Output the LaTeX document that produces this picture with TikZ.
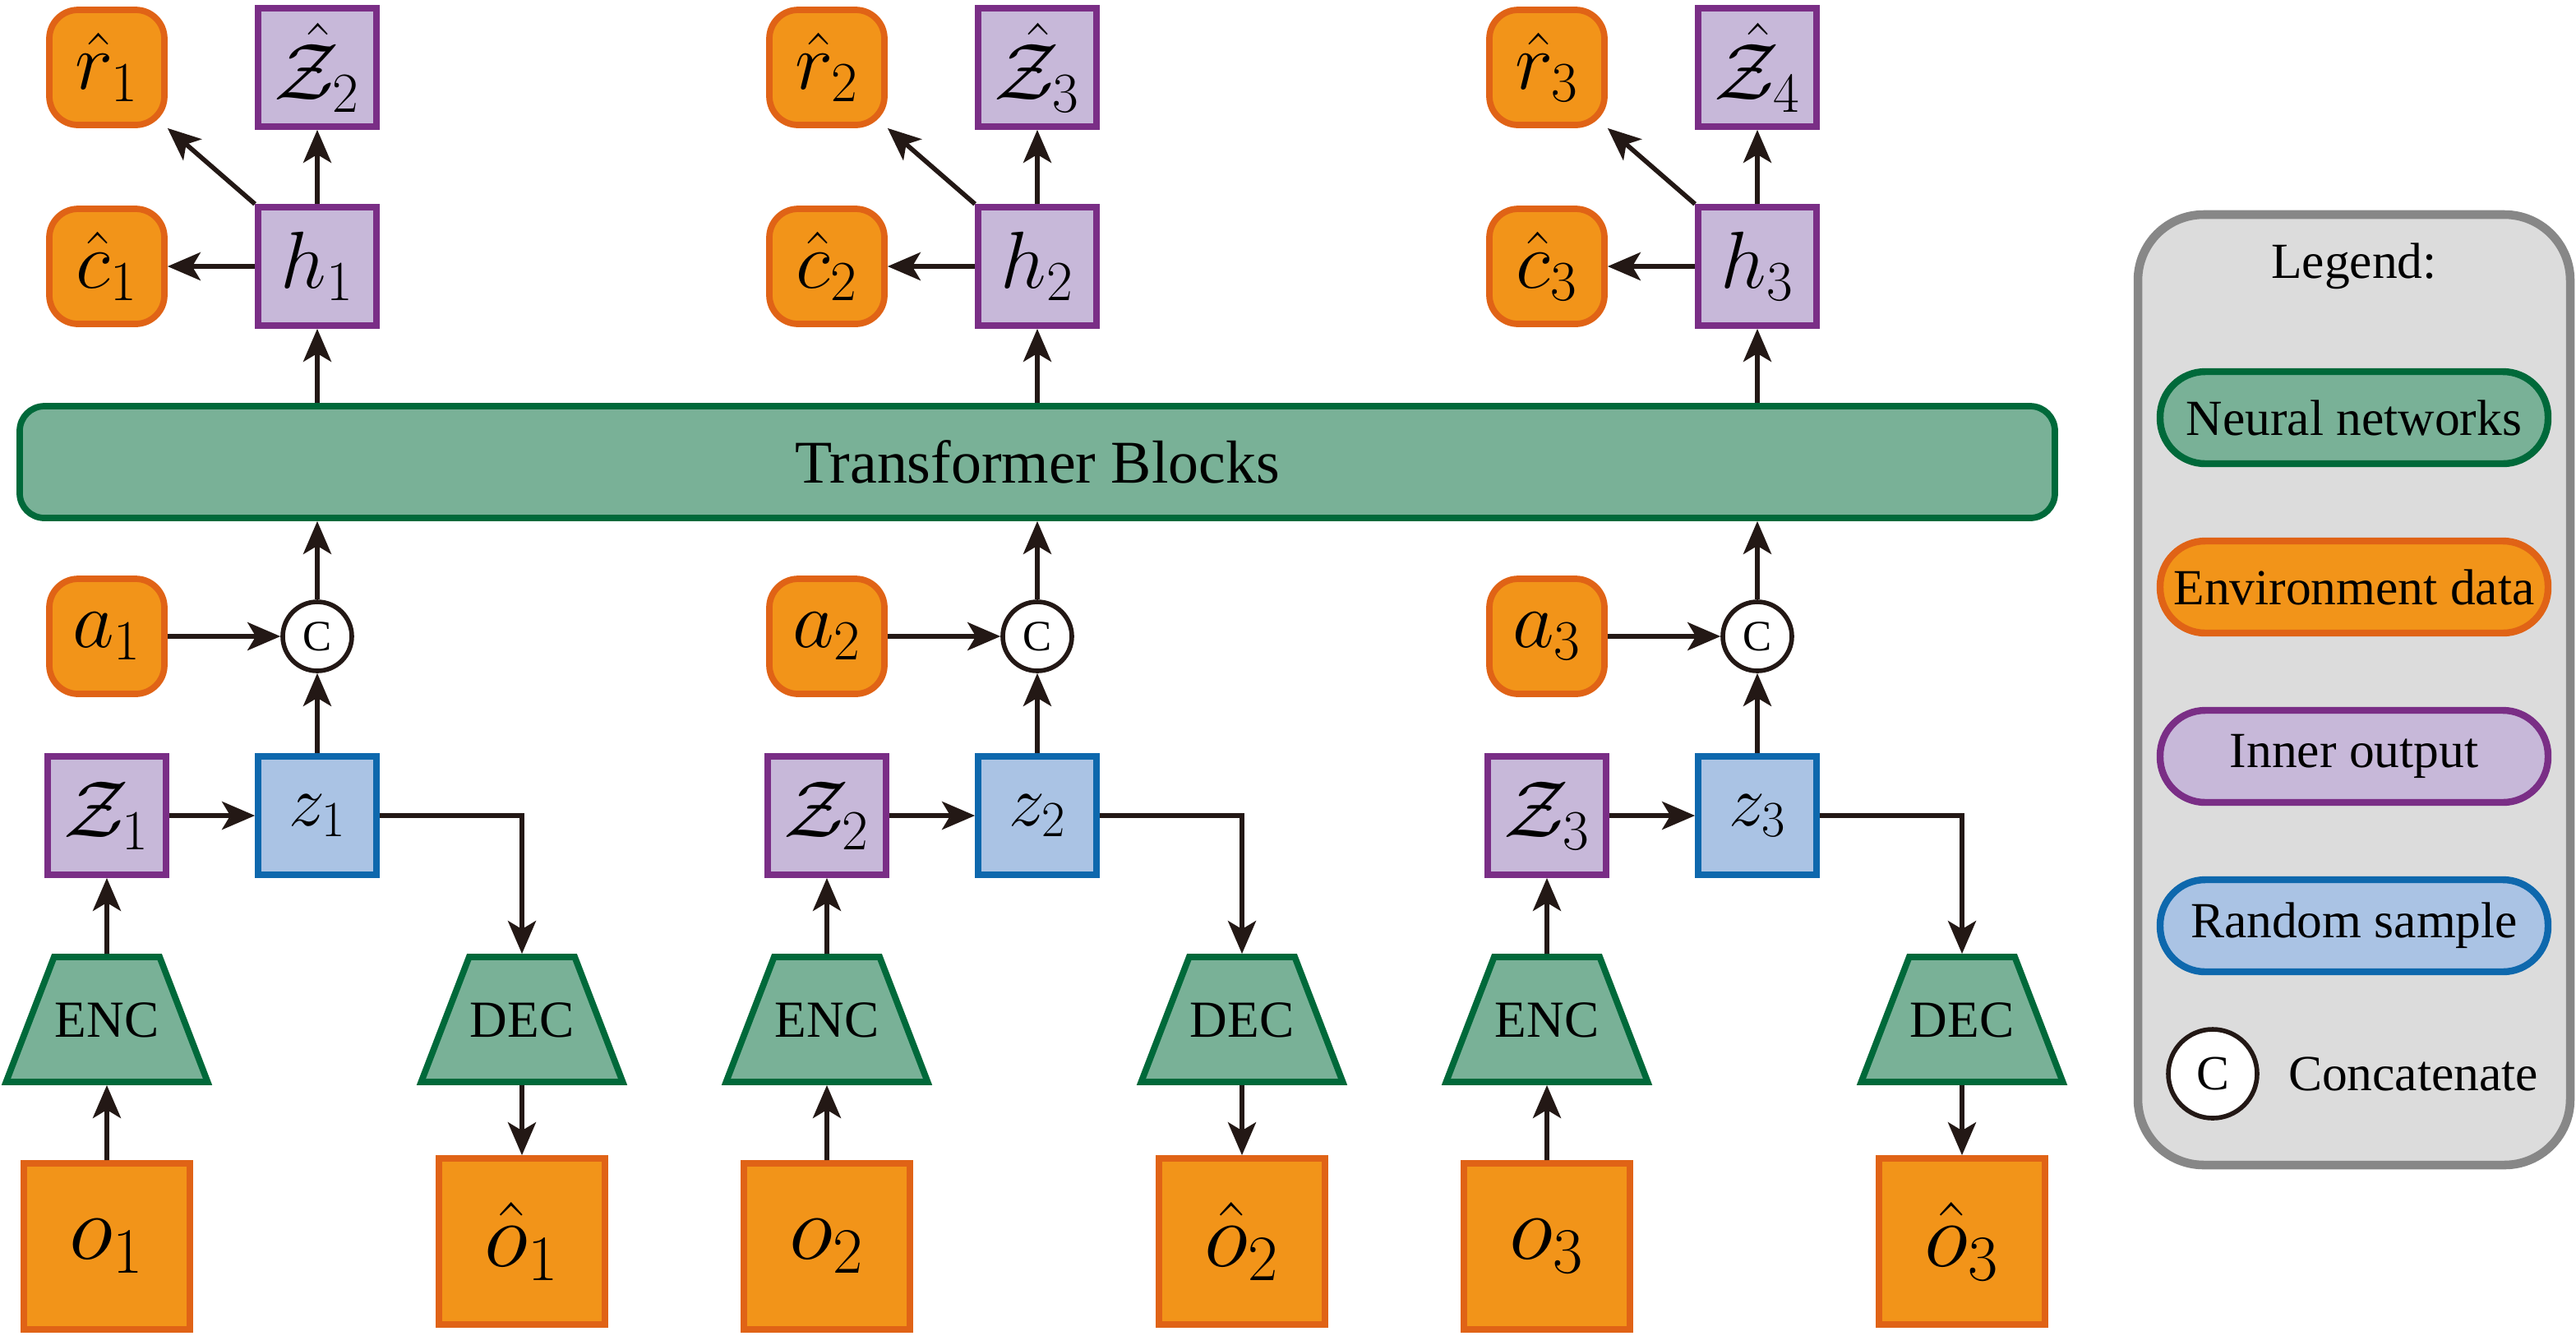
\RequirePackage{fix-cm}
\documentclass[tikz,border=0pt]{standalone}
\usepackage[no-math]{fontspec}
\setmainfont{Liberation Serif}
\usetikzlibrary{arrows.meta,shapes.geometric}

\definecolor{envfill}{HTML}{F29419}
\definecolor{envline}{HTML}{E06316}
\definecolor{innerfill}{HTML}{C7B8D9}
\definecolor{innerline}{HTML}{7A2E86}
\definecolor{samplefill}{HTML}{AAC3E4}
\definecolor{sampleline}{HTML}{0E68AD}
\definecolor{netfill}{HTML}{79B197}
\definecolor{netline}{HTML}{00693A}
\definecolor{legfill}{HTML}{DCDCDC}
\definecolor{legline}{HTML}{878787}
\definecolor{arrowcol}{HTML}{231815}

\tikzset{
  envbox/.style={draw=envline, fill=envfill, line width=2.2pt, rounded corners=0.35cm,
    minimum size=1.40cm, inner sep=0pt, font=\fontsize{28}{32}\selectfont},
  innerbox/.style={draw=innerline, fill=innerfill, line width=2.2pt,
    minimum size=1.44cm, inner sep=0pt, font=\fontsize{28}{32}\selectfont},
  samplebox/.style={draw=sampleline, fill=samplefill, line width=2.2pt,
    minimum size=1.44cm, inner sep=0pt, font=\fontsize{25}{28}\selectfont},
  obsbox/.style={draw=envline, fill=envfill, line width=2.2pt,
    minimum size=2.02cm, inner sep=0pt, font=\fontsize{32}{36}\selectfont},
  netbox/.style={trapezium, trapezium angle=69, trapezium stretches=false,
    draw=netline, fill=netfill, line width=2.2pt, inner xsep=0.01cm, inner ysep=0.55cm,
    text height=0.42cm, text depth=0cm, font=\fontsize{18}{20}\selectfont},
  catnode/.style={circle, draw=arrowcol, fill=white, line width=1.6pt,
    minimum size=0.84cm, inner sep=0pt, font=\fontsize{15}{17}\selectfont},
  legpill/.style={line width=2.4pt, rounded corners=0.55cm, minimum width=4.72cm,
    minimum height=1.12cm, font=\fontsize{17.5}{20}\selectfont},
  flow/.style={draw=arrowcol, line width=1.6pt,
    -{Stealth[length=0.4cm,width=0.34cm,inset=0.1cm]}},
}

\begin{document}
\begin{tikzpicture}
  \useasboundingbox (0,0) rectangle (31.34,-16.24);

  % transformer
  \node[draw=netline, fill=netfill, line width=2.2pt, rounded corners=0.3cm,
    minimum width=24.76cm, minimum height=1.36cm, font=\fontsize{21}{24}\selectfont]
    (tf) at (12.62,-5.62) {Transformer Blocks};

  \foreach \i [evaluate=\i as \x using (\i-1)*8.76, evaluate=\i as \j using int(\i+1)] in {1,2,3} {
    % outputs
    \node[envbox] (r\i) at (1.30+\x,-0.82) {$\hat{r}_{\i}$};
    \node[innerbox] (zh\i) at (3.86+\x,-0.82) {$\hat{\mathcal{Z}}_{\j}$};
    \node[envbox] (c\i) at (1.30+\x,-3.24) {$\hat{c}_{\i}$};
    \node[innerbox] (h\i) at (3.86+\x,-3.24) {$h_{\i}$};
    % inputs
    \node[envbox] (a\i) at (1.30+\x,-7.74) {$a_{\i}$};
    \node[catnode] (cat\i) at (3.86+\x,-7.74) {C};
    \node[innerbox] (Z\i) at (1.30+\x,-9.92) {$\mathcal{Z}_{\i}$};
    \node[samplebox] (z\i) at (3.86+\x,-9.92) {$z_{\i}$};
    \node[netbox] (enc\i) at (1.30+\x,-12.40) {ENC};
    \node[netbox] (dec\i) at (6.35+\x,-12.40) {DEC};
    \node[obsbox] (o\i) at (1.30+\x,-15.16) {$o_{\i}$};
    \node[obsbox] (oh\i) at (6.35+\x,-15.10) {$\hat{o}_{\i}$};

    \draw[flow] (o\i) -- (enc\i);
    \draw[flow] (enc\i) -- (Z\i);
    \draw[flow] (Z\i) -- (z\i);
    \draw[flow] (z\i) -- (cat\i);
    \draw[flow] (a\i) -- (cat\i);
    \draw[flow] (cat\i) -- (cat\i |- tf.south);
    \draw[flow] (z\i.east) -| (dec\i.north);
    \draw[flow] (dec\i) -- (oh\i);
    \draw[flow] (h\i |- tf.north) -- (h\i);
    \draw[flow] (h\i) -- (c\i);
    \draw[flow] (h\i.north west) -- (r\i.south east);
    \draw[flow] (h\i) -- (zh\i);
  }

  % legend
  \node[draw=legline, fill=legfill, line width=3pt, rounded corners=0.8cm,
    minimum width=5.26cm, minimum height=11.56cm] (leg) at (28.64,-8.39) {};
  \node[font=\fontsize{17.5}{20}\selectfont] (legtitle) at (28.64,-3.24) {Legend:};
  \node[legpill, draw=netline, fill=netfill] (lnet) at (28.64,-5.08) {Neural networks};
  \node[legpill, draw=envline, fill=envfill] (lenv) at (28.64,-7.14) {Environment data};
  \node[legpill, draw=innerline, fill=innerfill] (linner) at (28.64,-9.20) {Inner output};
  \node[legpill, draw=sampleline, fill=samplefill] (lsample) at (28.64,-11.26) {Random sample};
  \node[catnode, minimum size=1.08cm, font=\fontsize{17}{20}\selectfont] (lcat) at (26.92,-13.06) {C};
  \node[font=\fontsize{17.5}{20}\selectfont] (lcattext) at (29.36,-13.06) {Concatenate};
\end{tikzpicture}
\end{document}
